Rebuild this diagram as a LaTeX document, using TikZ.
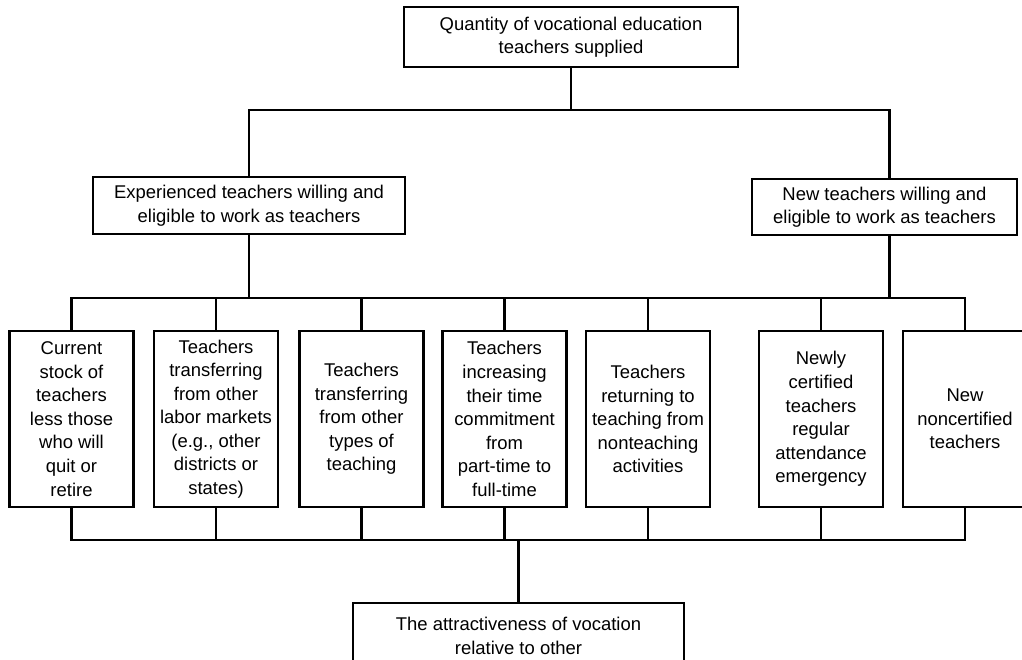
\documentclass[tikz,border=0pt]{standalone}
\usepackage{fontspec}
\setmainfont{Liberation Sans}
\usetikzlibrary{positioning,calc}
\tikzset{
  box/.style={draw,line width=1.5pt,align=center,inner sep=0pt,
    font=\fontsize{10.5pt}{13.4pt}\selectfont},
  srcBox/.style={box,minimum width=24.8mm,minimum height=35.2mm},
  link/.style={line width=1.4pt},
}
\begin{document}
\begin{tikzpicture}
\useasboundingbox (0,0) rectangle (20.44,-13.18);
\clip (0,0) rectangle (20.44,-13.18);

% Bus anchors
\coordinate (topBus) at (0,-2.2);   % below supply box
\coordinate (upBus) at (0,-5.96);   % above source boxes
\coordinate (lowBus) at (0,-10.8);  % below source boxes

% ===== Quantity supplied =====
\node[box, minimum width=66.8mm, minimum height=12mm] (supplyBox) at (11.42,-0.74)
  {Quantity of vocational education\\teachers supplied};

% ===== Experienced / new teachers =====
\node[box, minimum width=62.4mm, minimum height=11.4mm] (expBox) at (4.98,-4.11)
  {Experienced teachers willing and\\eligible to work as teachers};
\node[box, minimum width=53mm, minimum height=11.2mm] (newBox) at (17.69,-4.14)
  {New teachers willing and\\eligible to work as teachers};
\coordinate (newTop) at ($(newBox.north)+(1mm,0)$);
\coordinate (newBot) at ($(newBox.south)+(1mm,0)$);

\draw[link] (supplyBox.south) -- (supplyBox.south |- topBus);
\draw[link] (expBox.north) |- (supplyBox.south |- topBus) -| (newTop);

% ===== Sources of teachers =====
\foreach [count=\i] \x/\txt in {
  1.43/{Current\\stock of\\teachers\\less those\\who will\\quit or\\retire},
  4.32/{Teachers\\transferring\\from other\\labor markets\\(e.g., other\\districts or\\states)},
  7.23/{Teachers\\transferring\\from other\\types of\\teaching},
  10.09/{Teachers\\increasing\\their time\\commitment\\from\\part-time to\\full-time},
  12.96/{Teachers\\returning to\\teaching from\\nonteaching\\activities},
  16.42/{Newly\\certified\\teachers\\regular\\attendance\\emergency},
  19.30/{New\\noncertified\\teachers}} {
  \node[srcBox] (src\i) at (\x,-8.38) {\txt};
}

% upper bus
\draw[link] (src1.north) |- (upBus -| src7.north) -- (src7.north);
\foreach \i in {2,...,6} {\draw[link] (src\i.north) -- (src\i.north |- upBus);}
\draw[link] (expBox.south) -- (expBox.south |- upBus);
\draw[link] (newBot) -- (newBot |- upBus);

% lower bus
\draw[link] (src1.south) |- (lowBus -| src7.south) -- (src7.south);
\foreach \i in {2,...,6} {\draw[link] (src\i.south) -- (src\i.south |- lowBus);}

% ===== Attractiveness =====
\node[box, minimum width=66.2mm, minimum height=13.2mm] (attractBox) at (10.37,-12.72)
  {The attractiveness of vocation\\relative to other};
\draw[link] (attractBox.north |- lowBus) -- (attractBox.north);

\end{tikzpicture}
\end{document}
